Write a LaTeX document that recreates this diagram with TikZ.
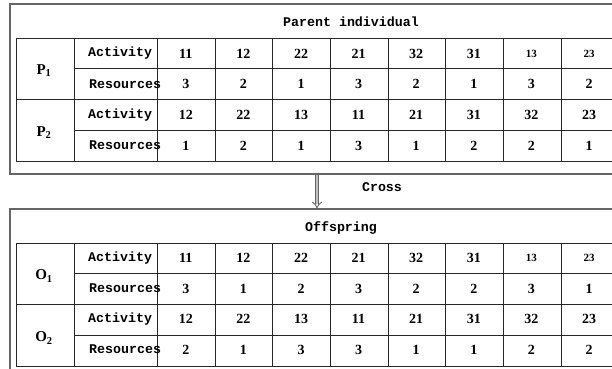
\documentclass[tikz,border=0pt]{standalone}
\usepackage{fontspec}
\setmainfont{Liberation Serif}
\setmonofont{Liberation Mono}
\usepackage{tikz}
\usetikzlibrary{arrows.meta}

\newcommand{\smnum}{\fontsize{11}{13}\selectfont}

\begin{document}
\begin{tikzpicture}[
        x=1pt, y=-1pt,
        frame/.style={draw=black!60, line width=1.1pt},
        grid/.style={draw=black!85, line width=0.9pt},
        word/.style={font=\ttfamily\bfseries\fontsize{13.3}{16}\selectfont, inner sep=0pt},
        num/.style={font=\rmfamily\bfseries\fontsize{14}{16}\selectfont, inner sep=0pt},
        title/.style={font=\ttfamily\bfseries\fontsize{13.3}{16}\selectfont, inner sep=0pt},
        label/.style={font=\rmfamily\bfseries\fontsize{15}{17}\selectfont, inner sep=0pt},
        crossarrow/.style={draw=black!60, double=black!25, double distance=2.6pt, line width=0.9pt, -{Implies}}
    ]

        \path[use as bounding box, clip] (0,0) rectangle (612,368);

        \draw[frame] (10,4) rectangle (630,174);
        \draw[frame] (10,209) rectangle (630,390);

        \foreach \ty in {38, 243} {
            \draw[grid] (16,\ty) rectangle (618,\ty+123);
            \draw[grid] (16,\ty+61.5) -- (618,\ty+61.5);
            \draw[grid] (74,\ty+30.75) -- (618,\ty+30.75);
            \draw[grid] (74,\ty+92.25) -- (618,\ty+92.25);
            \foreach \cx in {74, 157, 215, 272, 330, 388, 445, 503, 561}
                \draw[grid] (\cx,\ty) -- (\cx,\ty+123);
        }

        \node[title] (partitle) at (351,22) {Parent individual};
        \node[title] (offtitle) at (341,228) {Offspring};

        \node[label] (p1) at (44,71) {P$_{\mathbf 1}$};
        \node[label] (p2) at (44,133) {P$_{\mathbf 2}$};
        \node[label] (o1) at (44,276) {O$_{\mathbf 1}$};
        \node[label] (o2) at (44,338) {O$_{\mathbf 2}$};

        \foreach \ry/\rn in {53.5/p1act, 115/p2act, 258/o1act, 319/o2act}
            \node[word, anchor=west] (\rn) at (88,\ry) {Activity};
        \foreach \ry/\rn in {84/p1res, 145.5/p2res, 288.5/o1res, 349.5/o2res}
            \node[word, anchor=west] (\rn) at (89,\ry) {Resources};

        \foreach \v [count=\i] in {11,12,22,21,32,31,{\smnum 13},{\smnum 23}}
            \node[num] (p1a\i) at ({157+57.6*(\i-0.5)},53.5) {\v};
        \foreach \v [count=\i] in {3,2,1,3,2,1,3,2}
            \node[num] (p1r\i) at ({157+57.6*(\i-0.5)},84) {\v};
        \foreach \v [count=\i] in {12,22,13,11,21,31,32,23}
            \node[num] (p2a\i) at ({157+57.6*(\i-0.5)},115) {\v};
        \foreach \v [count=\i] in {1,2,1,3,1,2,2,1}
            \node[num] (p2r\i) at ({157+57.6*(\i-0.5)},145.5) {\v};

        \foreach \v [count=\i] in {11,12,22,21,32,31,{\smnum 13},{\smnum 23}}
            \node[num] (o1a\i) at ({157+57.6*(\i-0.5)},258) {\v};
        \foreach \v [count=\i] in {3,1,2,3,2,2,3,1}
            \node[num] (o1r\i) at ({157+57.6*(\i-0.5)},288.5) {\v};
        \foreach \v [count=\i] in {12,22,13,11,21,31,32,23}
            \node[num] (o2a\i) at ({157+57.6*(\i-0.5)},319) {\v};
        \foreach \v [count=\i] in {2,1,3,3,1,1,2,2}
            \node[num] (o2r\i) at ({157+57.6*(\i-0.5)},349.5) {\v};

        \coordinate (arrtop) at (317,174.5);
        \coordinate (arrbot) at (317,208.5);
        \draw[crossarrow] (arrtop) -- (arrbot);
        \node[title] (cross) at (382,187) {Cross};

    \end{tikzpicture}
\end{document}
